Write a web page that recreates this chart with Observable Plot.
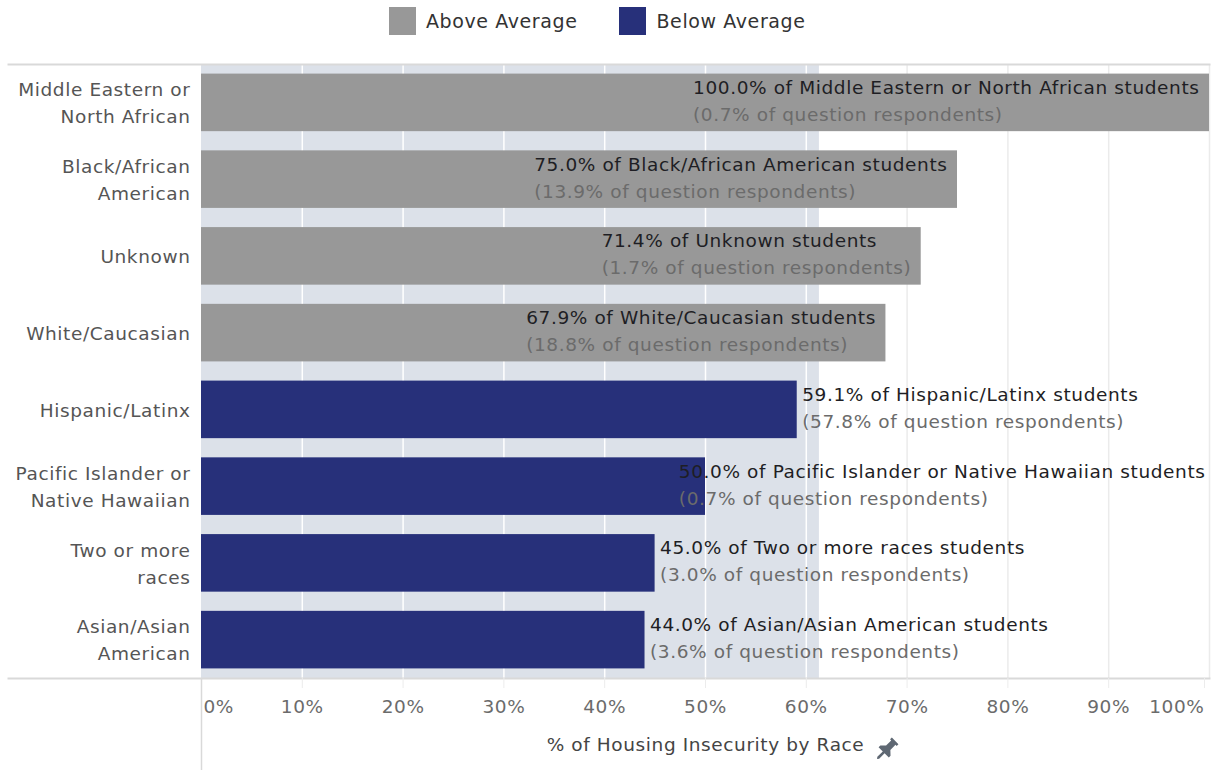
<!DOCTYPE html>
<html><head><meta charset="utf-8">
<script src="https://cdn.jsdelivr.net/npm/d3@7"></script>
<script src="https://cdn.jsdelivr.net/npm/@observablehq/plot@0.6"></script>
<style>
body{margin:0;background:#fff;font-family:"DejaVu Sans",sans-serif;}
#legend{height:52px;display:flex;align-items:flex-start;padding-left:389px;padding-top:7px;box-sizing:border-box;}
.item{display:flex;align-items:center;margin-right:42px;font-size:19px;letter-spacing:0.6px;color:#333;line-height:28px}
.sw{width:27px;height:28px;margin-right:10px}
#chart svg{display:block}
</style></head><body>
<div id="legend"></div><div id="chart"></div>
<script>
// ---- data ----
const races = ["Middle Eastern or North African","Black/African American","Unknown","White/Caucasian","Hispanic/Latinx","Pacific Islander or Native Hawaiian","Two or more races","Asian/Asian American"];
const raceLabels = ["Middle Eastern or\nNorth African","Black/African\nAmerican","Unknown","White/Caucasian","Hispanic/Latinx","Pacific Islander or\nNative Hawaiian","Two or more\nraces","Asian/Asian\nAmerican"];
const housingPct = [100.0, 75.0, 71.4, 67.9, 59.1, 50.0, 45.0, 44.0];
const respondentPct = [0.7, 13.9, 1.7, 18.8, 57.8, 0.7, 3.0, 3.6];
const averagePct = 61.3;
const xTicks = [0,10,20,30,40,50,60,70,80,90,100];
const groups = ["Above Average","Below Average"];
const groupColors = ["#989898","#27307a"];
const axisTitle = "% of Housing Insecurity by Race";

// ---- layout ----
const W = 1211, H = 718, mL = 201, mR = 2, mT = 12, mB = 92;
const frameH = H - mT - mB, plotW = W - mL - mR;
const FONT = '"DejaVu Sans", sans-serif', FS = 18.5, LS = 0.6;

// legend
const lg = document.getElementById("legend");
groups.forEach((g,i)=>{
  const it = document.createElement("div"); it.className="item";
  it.innerHTML = `<div class="sw" style="background:${groupColors[i]}"></div><span>${g}</span>`;
  lg.appendChild(it);
});

const rows = races.map((r,i)=>({race:r, label:raceLabels[i], pct:housingPct[i], share:respondentPct[i],
  group: housingPct[i] > averagePct ? groups[0] : groups[1]}));
const labelOf = new Map(rows.map(d=>[d.race,d.label]));

const ctx = document.createElement("canvas").getContext("2d");
ctx.font = `${FS}px ${FONT}`;
const tw = s => ctx.measureText(s).width + LS*s.length;
const k = plotW/100;

const textMarks = [];
rows.forEach(d=>{
  const l1 = `${d.pct.toFixed(1)}% of ${d.race} students`;
  const l2 = `(${d.share.toFixed(1)}% of question respondents)`;
  const bw = Math.max(tw(l1), tw(l2));
  const px = d.pct*k;
  let dx;
  if (d.group === groups[0]) dx = -(10 + bw);
  else { dx = 5; if (px + dx + bw > plotW - 4) dx = plotW - 4 - bw - px; }
  textMarks.push(Plot.text([d], {x:"pct", y:"race", text:()=>l1, dx, dy:-15, textAnchor:"start", fill:"#1e1e24", fontSize:FS}));
  textMarks.push(Plot.text([d], {x:"pct", y:"race", text:()=>l2, dx, dy:12, textAnchor:"start", fill:"#6b6b6b", fontSize:FS}));
});

const pinSvg = `<svg xmlns="http://www.w3.org/2000/svg" viewBox="0 0 24 24"><g transform="rotate(45 12 12)" fill="#5f6873"><path d="M8 1.5h8v2.2h-1.4v6.2l3.6 3.4v2.1h-5.1v6.6L12 23.5l-1.1-1.5v-6.6H5.8v-2.1l3.6-3.4V3.7H8z"/></g></svg>`;
const pinSrc = "data:image/svg+xml;utf8," + encodeURIComponent(pinSvg);

const lineColor = "#d9d9d9";
const chart = Plot.plot({
  width: W, height: H, marginLeft: mL, marginRight: mR, marginTop: mT, marginBottom: mB,
  style: {fontFamily: FONT, fontSize: FS+"px", letterSpacing: LS+"px", background:"#fff", overflow:"visible"},
  x: {domain:[0,100], axis:null},
  y: {domain: races, paddingInner: 0.25, paddingOuter: 0.125, round:false, axis:null},
  color: {domain: groups, range: groupColors},
  marks: [
    Plot.rect([{a:0,b:averagePct}], {x1:"a", x2:"b", fill:"#dce1e9"}),
    Plot.ruleX(xTicks.filter(t=>t>0 && t<=averagePct), {stroke:"#ffffff", strokeWidth:1.5}),
    Plot.ruleX(xTicks.filter(t=>t>averagePct), {stroke:"#ebebeb", strokeWidth:1.5}),
    Plot.barX(rows, {x:"pct", y:"race", fill:"group"}),
    Plot.frame({anchor:"top", stroke:lineColor, strokeWidth:2, insetLeft:-(mL-8)}),
    Plot.frame({anchor:"bottom", stroke:lineColor, strokeWidth:2, insetLeft:-(mL-8)}),
    Plot.ruleX([0], {stroke:lineColor, strokeWidth:1.5, insetTop: frameH, insetBottom: -mB}),
    Plot.axisY({tickSize:0, tickPadding:11, dy:-2, tickFormat: d=>labelOf.get(d), fill:"#555", fontSize:FS, lineHeight:1.46, label:null}),
    Plot.axisX(xTicks.filter(t=>t>0 && t<100), {tickSize:10, tickPadding:11, stroke:"#ececec", fill:"#6b6b6b", fontSize:FS, tickFormat:d=>d+"%", label:null}),
    Plot.axisX([0], {tickSize:0, tickPadding:21, textAnchor:"start", dx:2, fill:"#6b6b6b", fontSize:FS, tickFormat:d=>d+"%", label:null}),
    Plot.axisX([100], {tickSize:10, tickPadding:11, stroke:"#ececec", textAnchor:"end", dx:-5, fill:"#6b6b6b", fontSize:FS, tickFormat:d=>d+"%", label:null}),
    Plot.text([axisTitle], {frameAnchor:"bottom", dy:72, fill:"#444", fontSize:FS}),
    Plot.image([pinSrc], {src:d=>d, frameAnchor:"bottom", dx:181, dy:71, width:28, height:28}),
    ...textMarks
  ]
});
document.getElementById("chart").appendChild(chart);
</script>
</body></html>
